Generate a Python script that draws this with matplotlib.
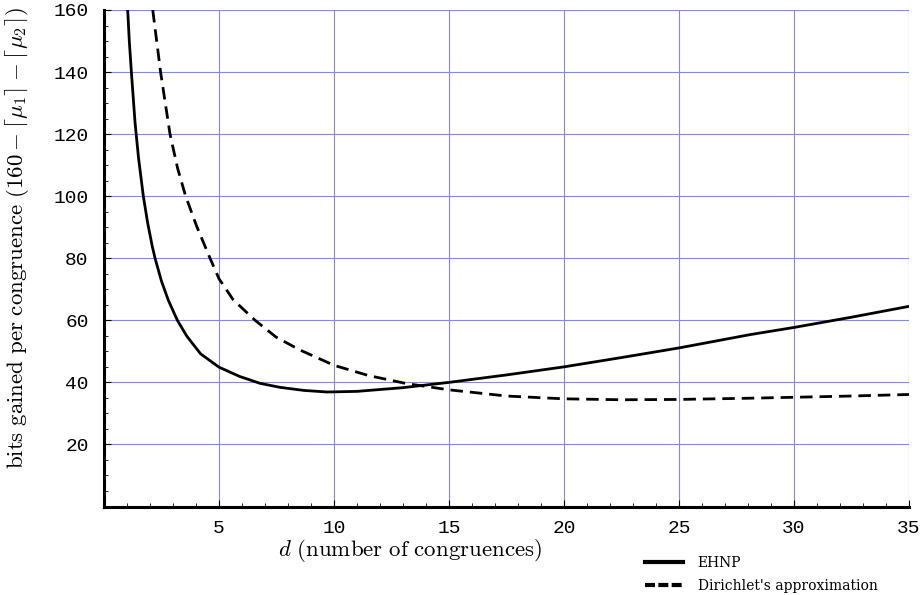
import numpy as np
import matplotlib.pyplot as plt
from matplotlib.lines import Line2D
from matplotlib.ticker import MultipleLocator

plt.rcParams['mathtext.fontset'] = 'cm'

# EHNP curve
d_ehnp = [1.03, 1.1, 1.2, 1.35, 1.5, 1.71, 1.9, 2.1, 2.22, 2.5, 2.8, 3.19,
          3.6, 4.2, 5.0, 5.9, 6.78, 7.65, 8.7, 9.7, 11.0, 13.0, 15.0,
          17.5, 20.0, 22.5, 25.0, 28.1, 30.0, 32.5, 35.0]
bits_ehnp = [160, 150, 139, 123.7, 112.4, 100, 91.3, 83.8, 80, 72.6, 66.4, 60,
             54.9, 49.2, 44.9, 41.9, 39.7, 38.4, 37.4, 36.9, 37.1, 38.3, 40.0,
             42.4, 45.0, 48.0, 51.1, 55.4, 57.7, 61.0, 64.5]

# Dirichlet's approximation curve
d_dir = [2.12, 2.46, 2.87, 3.2, 3.55, 4.03, 4.61, 5.0, 5.62, 6.57, 7.48,
         8.5, 10.0, 11.5, 13.16, 15.0, 17.5, 20.0, 22.5, 25.0, 28.1, 30.0,
         32.5, 35.0]
bits_dir = [160, 140, 120, 109, 100, 90.3, 80, 73.4, 66.6, 60, 54.6,
            50.5, 45.5, 42.2, 39.6, 37.6, 35.6, 34.7, 34.4, 34.5, 34.9, 35.2,
            35.6, 36.1]

x_ticks = [5, 10, 15, 20, 25, 30, 35]
y_ticks = [20, 40, 60, 80, 100, 120, 140, 160]

fig = plt.figure(figsize=(9.22, 5.95), dpi=100)
ax = fig.add_axes([104 / 922, 1 - 506.5 / 595, 805 / 922, 496.5 / 595])

grid_col = '#8a8acb'
for xv in x_ticks:
    ax.axvline(xv, color=grid_col, lw=0.8, zorder=0)
for yv in y_ticks:
    ax.axhline(yv, color=grid_col, lw=0.8, zorder=0)

ax.plot(d_ehnp, bits_ehnp, color='black', lw=2.0)
ax.plot(d_dir, bits_dir, color='black', lw=2.0, linestyle=(0, (4.5, 2.5)))

ax.set_xlim(0, 35)
ax.set_ylim(0, 160)
ax.set_xticks(x_ticks)
ax.set_yticks(y_ticks)
ax.xaxis.set_minor_locator(MultipleLocator(1))
ax.yaxis.set_minor_locator(MultipleLocator(5))
ax.tick_params(which='both', direction='in', color='black')
ax.tick_params(which='major', length=5, width=0.8)
ax.tick_params(which='minor', length=3, width=0.6)
ax.tick_params(axis='x', which='major', pad=10)
ax.tick_params(axis='y', which='major', pad=11)
for lab in ax.get_xticklabels() + ax.get_yticklabels():
    lab.set_fontfamily('Liberation Mono')
    lab.set_fontsize(14)

for s in ['top', 'right']:
    ax.spines[s].set_visible(False)
for s in ['left', 'bottom']:
    ax.spines[s].set_linewidth(2.2)
    ax.spines[s].set_zorder(5)

fig.text(17 / 922, 1 - 238 / 595,
         r'$\mathrm{bits\ gained\ per\ congruence}\ (160 - \lceil\mu_1\rceil - \lceil\mu_2\rceil)$',
         rotation=90, ha='center', va='center', fontsize=16.5)
fig.text(410 / 922, 1 - 551 / 595, r'$d\ \mathrm{(number\ of\ congruences)}$',
         ha='center', va='center', fontsize=16.5)

handles = [Line2D([], [], color='black', lw=3),
           Line2D([], [], color='black', lw=3, linestyle=(0, (2.4, 0.8)))]
fig.legend(handles, ['EHNP', "Dirichlet's approximation"],
           loc='upper left', bbox_to_anchor=(645 / 922, 1 - 556 / 595),
           frameon=False, prop={'family': 'DejaVu Serif', 'size': 10},
           handlelength=2.75, handletextpad=1.05, labelspacing=0.62,
           borderpad=0, borderaxespad=0)

fig.savefig('out.png', dpi=100)
